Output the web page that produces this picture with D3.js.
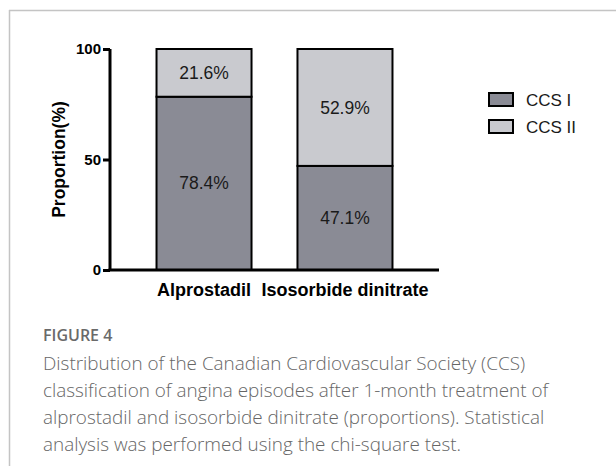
<!DOCTYPE html>
<html>
<head>
<meta charset="utf-8">
<script src="https://cdn.jsdelivr.net/npm/d3@7"></script>
<style>
  body { margin: 0; background: #fff; }
  svg { display: block; }
</style>
</head>
<body>
<svg id="chart" width="616" height="466"></svg>
<script>
// data
var groups = ['Alprostadil', 'Isosorbide dinitrate'];
var series = ['CCS I', 'CCS II'];
var ccs1 = [78.4, 47.1];
var ccs2 = [21.6, 52.9];
var yTicks = [0, 50, 100];
var colors = ['#8a8b95', '#c9cacf'];
var captionTitle = 'FIGURE 4';
var captionLines = [
  'Distribution of the Canadian Cardiovascular Society (CCS)',
  'classification of angina episodes after 1-month treatment of',
  'alprostadil and isosorbide dinitrate (proportions). Statistical',
  'analysis was performed using the chi-square test.'
];

var svg = d3.select('#chart');

// frame round the figure
svg.append('line')
  .attr('x1', 9).attr('x2', 616).attr('y1', 10.5).attr('y2', 10.5)
  .attr('stroke', '#c4c4c4').attr('stroke-width', 1.5);
svg.append('line')
  .attr('x1', 9.5).attr('x2', 9.5).attr('y1', 10).attr('y2', 466)
  .attr('stroke', '#c4c4c4').attr('stroke-width', 1.5);

var x = d3.scaleBand()
  .domain(groups)
  .range([110, 439])
  .paddingInner(0.326)
  .paddingOuter(0.33);

var y = d3.scaleLinear()
  .domain([0, 100])
  .range([270, 49]);

// stack the two series
var rows = groups.map(function (g, i) {
  return { group: g, 'CCS I': ccs1[i], 'CCS II': ccs2[i] };
});
var stacked = d3.stack().keys(series)(rows);

var g = svg.append('g');

stacked.forEach(function (layer, li) {
  g.selectAll('rect.s' + li)
    .data(layer)
    .enter()
    .append('rect')
    .attr('class', 's' + li)
    .attr('x', function (d) { return x(d.data.group); })
    .attr('y', function (d) { return y(d[1]); })
    .attr('width', x.bandwidth())
    .attr('height', function (d) { return y(d[0]) - y(d[1]); })
    .attr('fill', colors[li])
    .attr('stroke', '#000')
    .attr('stroke-width', 2);

  g.selectAll('text.l' + li)
    .data(layer)
    .enter()
    .append('text')
    .attr('class', 'l' + li)
    .attr('x', function (d) { return x(d.data.group) + x.bandwidth() / 2; })
    .attr('y', function (d) { return (y(d[0]) + y(d[1])) / 2; })
    .attr('dy', '0.35em')
    .attr('text-anchor', 'middle')
    .style('font-family', 'Liberation Sans, Arial, sans-serif')
    .style('font-size', '17.5px')
    .style('fill', '#1a1a1a')
    .text(function (d) { return (d[1] - d[0]).toFixed(1) + '%'; });
});

// y axis
var yAxis = svg.append('g')
  .attr('transform', 'translate(110,0)')
  .call(d3.axisLeft(y).tickValues(yTicks).tickSize(7).tickPadding(2));
yAxis.select('.domain').attr('stroke-width', 3).attr('d', 'M0,' + y(100) + 'V' + y(0));
yAxis.selectAll('.tick line').attr('stroke-width', 3);
yAxis.selectAll('.tick text')
  .style('font-family', 'Liberation Sans, Arial, sans-serif')
  .style('font-size', '15px')
  .style('font-weight', 'bold')
  .style('fill', '#000');

// x axis
var xAxis = svg.append('g')
  .attr('transform', 'translate(0,270)')
  .call(d3.axisBottom(x).tickSize(0).tickPadding(13));
xAxis.select('.domain').attr('stroke-width', 3).attr('d', 'M108.5,0H439');
xAxis.selectAll('.tick text')
  .style('font-family', 'Liberation Sans, Arial, sans-serif')
  .style('font-size', '18px')
  .style('font-weight', 'bold')
  .style('fill', '#000');

// y axis title
svg.append('text')
  .attr('transform', 'translate(65,' + y(50) + ') rotate(-90)')
  .attr('text-anchor', 'middle')
  .style('font-family', 'Liberation Sans, Arial, sans-serif')
  .style('font-size', '17.5px')
  .style('font-weight', 'bold')
  .text('Proportion(%)');

// legend
var legend = svg.append('g').attr('transform', 'translate(489,93)');
series.forEach(function (s, i) {
  var row = legend.append('g').attr('transform', 'translate(0,' + i * 27 + ')');
  row.append('rect')
    .attr('width', 24).attr('height', 13)
    .attr('fill', colors[i])
    .attr('stroke', '#000').attr('stroke-width', 2);
  row.append('text')
    .attr('x', 37).attr('y', 7)
    .attr('dy', '0.35em')
    .style('font-family', 'Liberation Sans, Arial, sans-serif')
    .style('font-size', '17px')
    .style('fill', '#1a1a1a')
    .text(s);
});

// caption
svg.append('text')
  .attr('x', 43).attr('y', 341)
  .style('font-family', 'Open Sans, sans-serif')
  .style('font-size', '16px')
  .style('font-weight', 600)
  .style('fill', '#6a6a6a')
  .text(captionTitle);

svg.selectAll('text.cap')
  .data(captionLines)
  .enter()
  .append('text')
  .attr('class', 'cap')
  .attr('x', 43)
  .attr('y', function (d, i) { return 370 + i * 27; })
  .style('font-family', 'Open Sans, sans-serif')
  .style('font-size', '18.9px')
  .style('font-weight', 300)
  .style('fill', '#666')
  .text(function (d) { return d; });
</script>
</body>
</html>
